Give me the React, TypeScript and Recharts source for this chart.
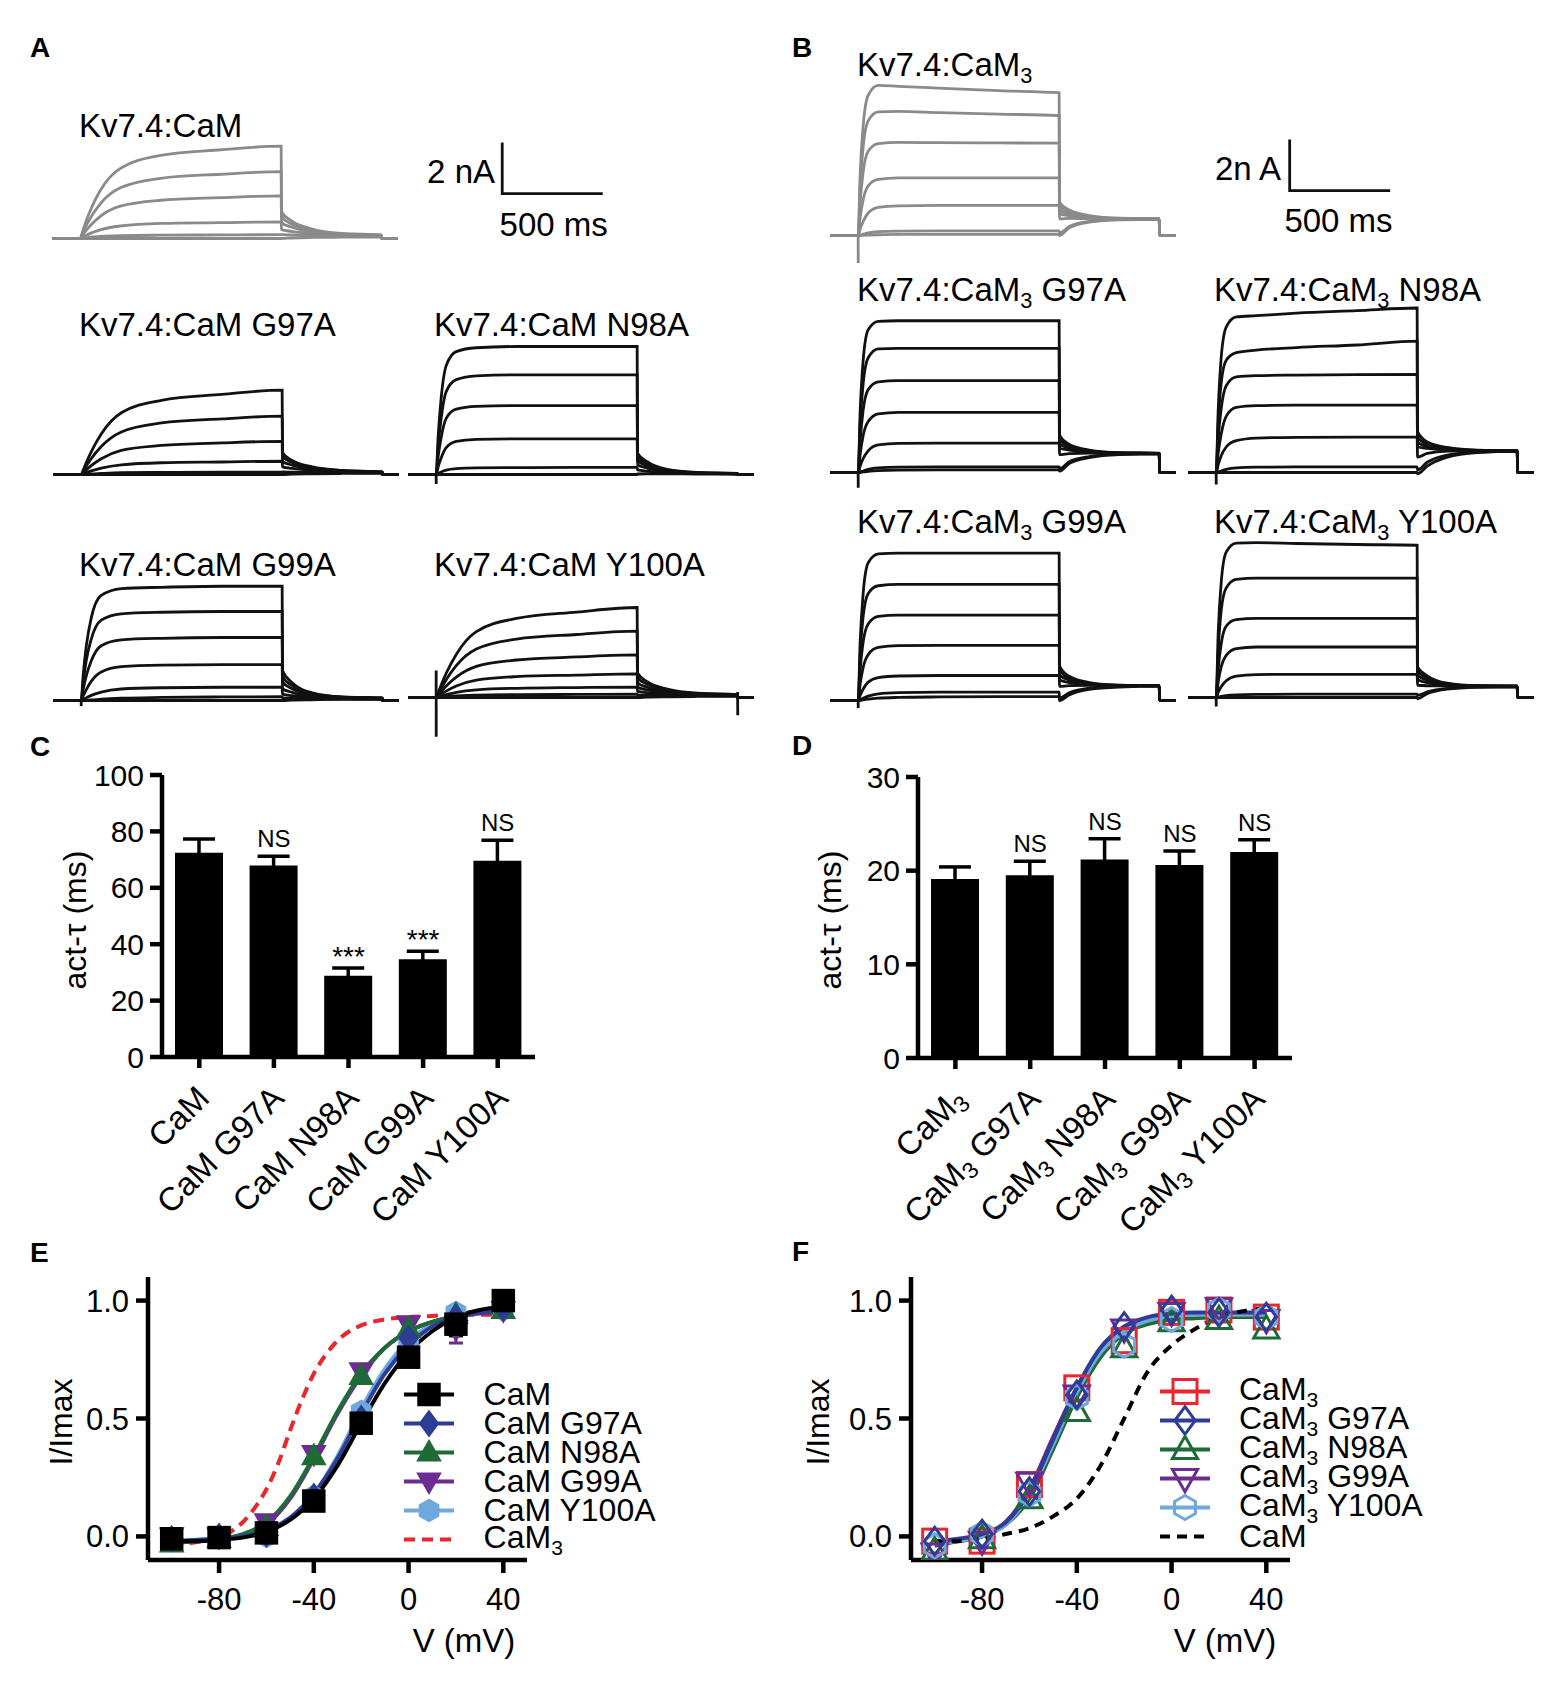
import React from 'react';
import {
  LineChart,
  ComposedChart,
  Line,
  Bar,
  Scatter,
  ErrorBar,
  XAxis,
  YAxis,
  ReferenceDot,
} from 'recharts';

const FONT = '"Liberation Sans", Arial, Helvetica, sans-serif';
const INK = '#111111';
const GRAY = '#8a8a8a';
const PX_MS = 0.201; // trace time scale
const PX_NA = 25.5; // trace current scale

// ---------- current traces (nA), sampled at these times (ms) ----------
const SWEEP_T = [-140, 0, 10, 25, 50, 100, 200, 400, 700, 1000, 1002, 1050, 1150, 1300, 1498, 1500, 1580];

const A_CAM = [
  [0, 0, 0.22, 0.58, 1.09, 1.88, 2.75, 3.26, 3.48, 3.62, 1.05, 0.7, 0.38, 0.2, 0.14, 0, 0],
  [0, 0, 0.16, 0.42, 0.79, 1.36, 1.99, 2.36, 2.52, 2.62, 0.85, 0.58, 0.33, 0.18, 0.13, 0, 0],
  [0, 0, 0.1, 0.27, 0.5, 0.87, 1.27, 1.5, 1.6, 1.67, 0.62, 0.45, 0.27, 0.16, 0.12, 0, 0],
  [0, 0, 0.04, 0.1, 0.2, 0.34, 0.49, 0.59, 0.62, 0.65, 0.35, 0.28, 0.2, 0.14, 0.11, 0, 0],
  [0, 0, 0.01, 0.02, 0.05, 0.08, 0.11, 0.13, 0.14, 0.15, 0.15, 0.14, 0.12, 0.1, 0.09, 0, 0],
  [0, 0, 0, 0, 0, 0, 0, 0, 0, 0, 0, 0.02, 0.04, 0.05, 0.06, 0, 0],
];
const A_G97A = [
  [0, 0, 0.17, 0.46, 0.89, 1.59, 2.42, 2.91, 3.14, 3.31, 0.85, 0.55, 0.3, 0.16, 0.1, 0, 0],
  [0, 0, 0.11, 0.32, 0.62, 1.1, 1.67, 2.02, 2.18, 2.29, 0.7, 0.47, 0.27, 0.15, 0.1, 0, 0],
  [0, 0, 0.07, 0.18, 0.35, 0.62, 0.95, 1.14, 1.24, 1.3, 0.5, 0.37, 0.22, 0.13, 0.09, 0, 0],
  [0, 0, 0.03, 0.07, 0.14, 0.25, 0.38, 0.46, 0.49, 0.52, 0.3, 0.24, 0.16, 0.11, 0.08, 0, 0],
  [0, 0, 0, 0.01, 0.02, 0.04, 0.07, 0.08, 0.09, 0.09, 0.1, 0.09, 0.08, 0.07, 0.06, 0, 0],
  [0, 0, 0, 0, 0, 0, 0, 0, 0, 0, 0, 0.02, 0.03, 0.04, 0.05, 0, 0],
];
const A_N98A = [
  [0, 0, 1.5, 3.0, 4.27, 4.82, 4.97, 5.02, 5.02, 5.02, 0.84, 0.5, 0.2, 0.08, 0.04, 0, 0],
  [0, 0, 1.1, 2.2, 3.25, 3.72, 3.87, 3.91, 3.91, 3.91, 0.7, 0.42, 0.17, 0.07, 0.04, 0, 0],
  [0, 0, 0.7, 1.45, 2.2, 2.56, 2.67, 2.7, 2.7, 2.7, 0.55, 0.34, 0.14, 0.06, 0.03, 0, 0],
  [0, 0, 0.3, 0.65, 1.05, 1.3, 1.38, 1.4, 1.4, 1.4, 0.38, 0.25, 0.11, 0.05, 0.03, 0, 0],
  [0, 0, 0.04, 0.1, 0.17, 0.23, 0.26, 0.27, 0.28, 0.28, 0.18, 0.13, 0.07, 0.04, 0.02, 0, 0],
  [0, 0, 0, 0, 0, 0, 0, 0, 0, 0, 0.02, 0.03, 0.03, 0.02, 0.02, 0, 0],
];
const A_G99A = [
  [0, 0, 0.99, 2.1, 3.23, 4.12, 4.39, 4.44, 4.48, 4.48, 1.17, 0.7, 0.3, 0.14, 0.1, 0, 0],
  [0, 0, 0.7, 1.55, 2.4, 3.15, 3.4, 3.46, 3.49, 3.49, 0.95, 0.58, 0.26, 0.13, 0.1, 0, 0],
  [0, 0, 0.42, 0.95, 1.55, 2.15, 2.38, 2.44, 2.47, 2.47, 0.72, 0.46, 0.22, 0.12, 0.09, 0, 0],
  [0, 0, 0.18, 0.42, 0.75, 1.12, 1.33, 1.39, 1.41, 1.41, 0.45, 0.32, 0.17, 0.1, 0.08, 0, 0],
  [0, 0, 0.04, 0.1, 0.2, 0.33, 0.45, 0.5, 0.52, 0.52, 0.25, 0.19, 0.12, 0.08, 0.06, 0, 0],
  [0, 0, 0, 0.01, 0.02, 0.05, 0.09, 0.12, 0.14, 0.15, 0.1, 0.09, 0.07, 0.06, 0.05, 0, 0],
  [0, 0, 0, 0, 0, 0, 0, 0, 0, 0, 0, 0.02, 0.03, 0.04, 0.04, 0, 0],
];
const A_Y100A = [
  [0, 0, 0.18, 0.49, 0.95, 1.69, 2.58, 3.1, 3.35, 3.53, 0.96, 0.62, 0.33, 0.17, 0.12, 0, 0],
  [0, 0, 0.13, 0.36, 0.7, 1.25, 1.9, 2.29, 2.47, 2.6, 0.78, 0.52, 0.29, 0.15, 0.11, 0, 0],
  [0, 0, 0.08, 0.23, 0.45, 0.8, 1.22, 1.47, 1.59, 1.67, 0.58, 0.4, 0.24, 0.13, 0.1, 0, 0],
  [0, 0, 0.05, 0.13, 0.25, 0.45, 0.68, 0.82, 0.88, 0.93, 0.4, 0.3, 0.19, 0.11, 0.09, 0, 0],
  [0, 0, 0.02, 0.06, 0.11, 0.2, 0.3, 0.36, 0.39, 0.41, 0.24, 0.19, 0.13, 0.09, 0.07, 0, 0],
  [0, 0, 0.01, 0.02, 0.04, 0.06, 0.09, 0.11, 0.12, 0.13, 0.1, 0.09, 0.08, 0.07, 0.06, 0, 0],
  [0, 0, 0, 0, 0, 0, 0, 0, 0, 0, 0, 0.02, 0.03, 0.04, 0.05, 0, 0],
];

const B_CAM3 = [
  [0, 0, 2.4, 4.3, 5.5, 5.89, 5.85, 5.78, 5.68, 5.6, 1.3, 1.0, 0.78, 0.68, 0.66, 0, 0],
  [0, 0, 1.9, 3.5, 4.5, 4.85, 4.87, 4.82, 4.76, 4.7, 1.15, 0.92, 0.75, 0.67, 0.65, 0, 0],
  [0, 0, 1.3, 2.5, 3.3, 3.6, 3.65, 3.64, 3.63, 3.62, 1.0, 0.85, 0.72, 0.66, 0.65, 0, 0],
  [0, 0, 0.7, 1.4, 1.95, 2.2, 2.26, 2.26, 2.26, 2.26, 0.85, 0.78, 0.7, 0.66, 0.65, 0, 0],
  [0, 0, 0.25, 0.55, 0.88, 1.1, 1.16, 1.18, 1.18, 1.18, 0.65, 0.67, 0.66, 0.65, 0.64, 0, 0],
  [0, 0, 0.02, 0.05, 0.1, 0.15, 0.17, 0.18, 0.18, 0.18, 0.1, 0.35, 0.55, 0.62, 0.64, 0, 0],
  [0, 0, 0, 0.01, 0.02, 0.03, 0.04, 0.04, 0.04, 0.04, 0, 0.3, 0.52, 0.61, 0.63, 0, 0],
];
const B_G97A = [
  [0, 0, 2.4, 4.4, 5.6, 5.93, 5.95, 5.95, 5.95, 5.95, 1.45, 1.1, 0.88, 0.78, 0.76, 0, 0],
  [0, 0, 1.9, 3.5, 4.5, 4.85, 4.87, 4.87, 4.87, 4.87, 1.3, 1.02, 0.85, 0.77, 0.75, 0, 0],
  [0, 0, 1.25, 2.45, 3.25, 3.55, 3.6, 3.6, 3.6, 3.6, 1.12, 0.95, 0.82, 0.76, 0.75, 0, 0],
  [0, 0, 0.7, 1.45, 2.0, 2.3, 2.36, 2.36, 2.36, 2.36, 0.95, 0.88, 0.8, 0.76, 0.75, 0, 0],
  [0, 0, 0.25, 0.55, 0.85, 1.08, 1.14, 1.15, 1.15, 1.15, 0.7, 0.74, 0.76, 0.75, 0.75, 0, 0],
  [0, 0, 0.02, 0.06, 0.12, 0.18, 0.21, 0.22, 0.22, 0.22, 0.15, 0.42, 0.62, 0.72, 0.74, 0, 0],
  [0, 0, 0, 0.02, 0.04, 0.07, 0.09, 0.1, 0.1, 0.1, 0.05, 0.35, 0.58, 0.7, 0.73, 0, 0],
];
const B_N98A = [
  [0, 0, 2.4, 4.5, 5.7, 6.1, 6.15, 6.25, 6.35, 6.45, 1.6, 1.2, 0.98, 0.88, 0.86, 0, 0],
  [0, 0, 1.9, 3.5, 4.4, 4.7, 4.8, 4.9, 5.0, 5.15, 1.4, 1.1, 0.94, 0.87, 0.85, 0, 0],
  [0, 0, 1.3, 2.5, 3.4, 3.75, 3.8, 3.82, 3.84, 3.85, 1.2, 1.02, 0.9, 0.86, 0.85, 0, 0],
  [0, 0, 0.75, 1.5, 2.2, 2.55, 2.62, 2.64, 2.64, 2.64, 1.0, 0.95, 0.88, 0.85, 0.85, 0, 0],
  [0, 0, 0.3, 0.65, 1.0, 1.25, 1.35, 1.38, 1.39, 1.39, 0.6, 0.75, 0.84, 0.85, 0.85, 0, 0],
  [0, 0, 0.02, 0.06, 0.12, 0.18, 0.21, 0.22, 0.22, 0.22, 0.1, 0.4, 0.68, 0.8, 0.84, 0, 0],
  [0, 0, 0, 0, 0, 0, 0, 0, 0, 0, -0.05, 0.25, 0.6, 0.78, 0.83, 0, 0],
];
const B_G99A = [
  [0, 0, 2.3, 4.2, 5.4, 5.75, 5.78, 5.78, 5.78, 5.78, 1.35, 0.95, 0.7, 0.6, 0.58, 0, 0],
  [0, 0, 1.8, 3.3, 4.2, 4.5, 4.55, 4.55, 4.55, 4.55, 1.2, 0.88, 0.67, 0.59, 0.58, 0, 0],
  [0, 0, 1.2, 2.3, 3.0, 3.3, 3.35, 3.35, 3.35, 3.35, 1.0, 0.8, 0.64, 0.59, 0.58, 0, 0],
  [0, 0, 0.65, 1.3, 1.8, 2.08, 2.15, 2.16, 2.16, 2.16, 0.8, 0.7, 0.62, 0.58, 0.58, 0, 0],
  [0, 0, 0.2, 0.45, 0.72, 0.9, 0.96, 0.98, 0.98, 0.98, 0.55, 0.58, 0.59, 0.58, 0.58, 0, 0],
  [0, 0, 0.03, 0.09, 0.17, 0.26, 0.31, 0.33, 0.33, 0.33, 0.1, 0.3, 0.48, 0.55, 0.57, 0, 0],
  [0, 0, 0, 0.02, 0.05, 0.09, 0.12, 0.14, 0.15, 0.15, 0, 0.22, 0.44, 0.53, 0.56, 0, 0],
];
const B_Y100A = [
  [0, 0, 2.5, 4.5, 5.7, 6.05, 6.07, 6.04, 6.0, 5.97, 1.2, 0.85, 0.56, 0.46, 0.44, 0, 0],
  [0, 0, 1.8, 3.4, 4.3, 4.63, 4.68, 4.68, 4.68, 4.68, 1.05, 0.76, 0.53, 0.45, 0.44, 0, 0],
  [0, 0, 1.1, 2.1, 2.8, 3.05, 3.1, 3.1, 3.1, 3.1, 0.88, 0.67, 0.5, 0.45, 0.44, 0, 0],
  [0, 0, 0.6, 1.2, 1.65, 1.92, 1.98, 1.98, 1.98, 1.98, 0.7, 0.58, 0.48, 0.44, 0.44, 0, 0],
  [0, 0, 0.2, 0.42, 0.66, 0.84, 0.9, 0.91, 0.91, 0.91, 0.48, 0.46, 0.45, 0.44, 0.44, 0, 0],
  [0, 0, 0.02, 0.04, 0.07, 0.1, 0.12, 0.13, 0.13, 0.13, 0.08, 0.22, 0.36, 0.42, 0.43, 0, 0],
  [0, 0, 0, 0, 0, 0, 0, 0, 0, 0, -0.05, 0.15, 0.33, 0.4, 0.42, 0, 0],
];

// capacitive transients: [t, nA] pairs
const A_N98A_SPIKES = [[[0, 0], [0.5, -0.37]]];
const A_G99A_SPIKES = [[[0, 0], [0.5, -0.22]]];
const A_Y100A_SPIKES = [[[0, 1.06], [0.5, -1.54]], [[1500, 0.22], [1500.5, -0.7]]];
const B_CAM3_SPIKES = [[[0, 0], [0.5, -1.08]]];
const B_G97A_SPIKES = [[[0, 0], [0.5, -0.6]]];
const B_N98A_SPIKES = [[[0, 0], [0.5, -0.47]]];
const B_G99A_SPIKES = [[[0, 0], [0.5, -0.3]]];
const B_Y100A_SPIKES = [[[0, 0], [0.5, -0.35]]];

// scale bars: 2 nA / 500 ms
const BAR_NA = 2;
const BAR_MS = 500;

// ---------- activation time constants ----------
const C_NAMES = ['CaM', 'CaM G97A', 'CaM N98A', 'CaM G99A', 'CaM Y100A'];
const C_MEAN = [72.4, 67.9, 28.8, 34.7, 69.6];
const C_SEM = [4.9, 3.3, 2.8, 2.8, 7.3];
const C_SIG = ['', 'NS', '***', '***', 'NS'];
const C_TICKS = [0, 20, 40, 60, 80, 100];

const D_NAMES = ['CaM3', 'CaM3 G97A', 'CaM3 N98A', 'CaM3 G99A', 'CaM3 Y100A'];
const D_MEAN = [19.1, 19.5, 21.2, 20.6, 22.0];
const D_SEM = [1.3, 1.5, 2.2, 1.5, 1.3];
const D_SIG = ['', 'NS', 'NS', 'NS', 'NS'];
const D_TICKS = [0, 10, 20, 30];

// ---------- conductance-voltage ----------
const V_STEPS = [-100, -80, -60, -40, -20, 0, 20, 40];
const V_TICKS = [-80, -40, 0, 40];
const FIT_V = [-100, -90, -80, -70, -60, -50, -40, -30, -20, -10, 0, 10, 20, 30, 40];

const E_CAM = [-0.01, -0.005, 0.015, 0.15, 0.48, 0.76, 0.9, 1.0];
const E_CAM_ERR = [0.01, 0.01, 0.01, 0.02, 0.02, 0.03, 0.05, 0.01];
const E_G97A = [-0.01, 0.0, 0.01, 0.17, 0.5, 0.84, 0.93, 0.97];
const E_N98A = [-0.03, -0.01, 0.04, 0.34, 0.68, 0.88, 0.94, 0.96];
const E_G99A = [0.0, 0.0, 0.06, 0.35, 0.7, 0.9, 0.88, 0.96];
const E_G99A_ERR = [0.01, 0.01, 0.01, 0.02, 0.02, 0.02, 0.06, 0.01];
const E_Y100A = [-0.01, 0.0, 0.0, 0.17, 0.53, 0.82, 0.95, 0.96];

const E_FIT_CAM = [-0.02, -0.02, -0.015, -0.005, 0.02, 0.07, 0.16, 0.3, 0.48, 0.65, 0.78, 0.87, 0.93, 0.96, 0.975];
const E_FIT_G97A = [-0.02, -0.015, -0.01, 0.0, 0.025, 0.08, 0.18, 0.33, 0.52, 0.69, 0.81, 0.89, 0.93, 0.95, 0.96];
const E_FIT_N98A = [-0.03, -0.02, -0.01, 0.01, 0.06, 0.17, 0.34, 0.53, 0.69, 0.8, 0.87, 0.91, 0.935, 0.95, 0.955];
const E_FIT_G99A = [-0.02, -0.02, -0.01, 0.005, 0.05, 0.16, 0.33, 0.52, 0.68, 0.8, 0.87, 0.91, 0.93, 0.945, 0.95];
const E_FIT_Y100A = [-0.02, -0.015, -0.01, 0.0, 0.02, 0.075, 0.18, 0.34, 0.54, 0.71, 0.83, 0.9, 0.94, 0.955, 0.96];
const E_FIT_CAM3_V = [-100, -90, -80, -75, -70, -65, -60, -55, -50, -45, -40, -35, -30, -25, -20, -10, 0, 10, 20, 30, 40];
const E_FIT_CAM3 = [-0.035, -0.025, -0.005, 0.02, 0.06, 0.12, 0.2, 0.31, 0.45, 0.58, 0.69, 0.77, 0.83, 0.87, 0.895, 0.92, 0.93, 0.935, 0.94, 0.94, 0.94];

const F_CAM3 = [-0.02, -0.02, 0.22, 0.63, 0.83, 0.95, 0.96, 0.93];
const F_G97A = [-0.02, 0.01, 0.19, 0.6, 0.89, 0.96, 0.95, 0.93];
const F_N98A = [-0.06, -0.01, 0.16, 0.53, 0.8, 0.91, 0.92, 0.88];
const F_G99A = [-0.07, -0.02, 0.23, 0.6, 0.88, 0.95, 0.97, 0.92];
const F_Y100A = [-0.04, 0.01, 0.18, 0.59, 0.81, 0.92, 0.96, 0.93];

const F_FIT_CAM3 = [-0.02, -0.015, 0.0, 0.06, 0.2, 0.42, 0.63, 0.79, 0.88, 0.92, 0.94, 0.945, 0.945, 0.945, 0.945];
const F_FIT_G97A = [-0.02, -0.01, 0.01, 0.06, 0.19, 0.41, 0.63, 0.8, 0.89, 0.93, 0.945, 0.95, 0.95, 0.95, 0.95];
const F_FIT_N98A = [-0.03, -0.02, 0.0, 0.05, 0.16, 0.37, 0.59, 0.76, 0.86, 0.9, 0.92, 0.925, 0.93, 0.93, 0.93];
const F_FIT_G99A = [-0.04, -0.02, 0.0, 0.06, 0.2, 0.42, 0.63, 0.79, 0.88, 0.92, 0.94, 0.945, 0.945, 0.945, 0.945];
const F_FIT_Y100A = [-0.03, -0.02, 0.0, 0.05, 0.18, 0.39, 0.61, 0.78, 0.87, 0.915, 0.935, 0.94, 0.94, 0.94, 0.94];
const F_FIT_CAM = [-0.02, -0.02, -0.01, 0.01, 0.035, 0.085, 0.16, 0.3, 0.5, 0.7, 0.81, 0.88, 0.93, 0.955, 0.97];

const RED = '#e8262b';
const BLUE = '#2d3c96';
const GREEN = '#1e6b37';
const PURPLE = '#6b2d90';
const SKY = '#6fa8dc';

const AXIS = { stroke: '#000', strokeWidth: 4.5 };

// ---------------------------------------------------------------------

type Kind = 'square' | 'diamond' | 'up' | 'down' | 'hex';

function Marker({ cx, cy, kind, size, color, open }: { cx: number; cy: number; kind: Kind; size: number; color: string; open?: boolean }) {
  const h = size / 2;
  const st = { fill: open ? 'none' : color, stroke: color, strokeWidth: open ? 3 : 1.5 };
  if (kind === 'square') return <rect x={cx - h} y={cy - h} width={size} height={size} {...st} />;
  let pts: number[][];
  if (kind === 'diamond') pts = [[0, -1.15], [0.85, 0], [0, 1.15], [-0.85, 0]];
  else if (kind === 'up') pts = [[0, -1.1], [1.05, 0.75], [-1.05, 0.75]];
  else if (kind === 'down') pts = [[0, 1.1], [1.05, -0.75], [-1.05, -0.75]];
  else pts = [[0, -1], [0.87, -0.5], [0.87, 0.5], [0, 1], [-0.87, 0.5], [-0.87, -0.5]];
  return <polygon points={pts.map(([a, b]) => `${cx + a * h},${cy + b * h}`).join(' ')} {...st} />;
}

function Sub3({ text, subSize = 0.66 }: { text: string; subSize?: number }) {
  const m = text.match(/^(.*CaM)3(.*)$/);
  if (!m) return <>{text}</>;
  return (
    <>
      {m[1]}
      <span style={{ fontSize: `${subSize}em`, position: 'relative', top: '0.32em' }}>3</span>
      {m[2]}
    </>
  );
}

function Txt({ x, y, size = 33, bold, anchor = 'left', children }: any) {
  const style: any = {
    position: 'absolute',
    top: y - 0.49 * size,
    fontSize: size,
    lineHeight: 1,
    fontWeight: bold ? 700 : 400,
    whiteSpace: 'nowrap',
    color: '#000',
  };
  if (anchor === 'left') style.left = x;
  else if (anchor === 'right') style.right = 1562 - x;
  else {
    style.left = x;
    style.transform = 'translateX(-50%)';
  }
  return <div style={style}>{children}</div>;
}

function VText({ x, y, size = 32, children }: any) {
  return (
    <div
      style={{
        position: 'absolute',
        left: x,
        top: y,
        fontSize: size,
        lineHeight: 1,
        whiteSpace: 'nowrap',
        transform: 'translate(-50%, -50%) rotate(-90deg)',
      }}
    >
      {children}
    </div>
  );
}

type TraceProps = {
  x0: number;
  base: number;
  sweeps: number[][];
  color: string;
  tMax?: number;
  spikes?: number[][][];
  barAt?: [number, number];
};

function TracePanel({ x0, base, sweeps, color, tMax = 1580, spikes = [], barAt }: TraceProps) {
  const tMin = SWEEP_T[0];
  const yMin = -1.8;
  const yMax = 7;
  const width = (tMax - tMin) * PX_MS;
  const height = (yMax - yMin) * PX_NA;
  const bar = barAt
    ? [
        { t: barAt[0], v: barAt[1] + BAR_NA },
        { t: barAt[0], v: barAt[1] },
        { t: barAt[0] + BAR_MS, v: barAt[1] },
      ]
    : null;
  return (
    <div style={{ position: 'absolute', left: x0 + tMin * PX_MS, top: base - yMax * PX_NA }}>
      <LineChart width={width} height={height} margin={{ top: 0, right: 0, bottom: 0, left: 0 }}>
        <XAxis type="number" dataKey="t" domain={[tMin, tMax]} hide allowDataOverflow />
        <YAxis type="number" domain={[yMin, yMax]} hide allowDataOverflow />
        {sweeps.map((s, i) => (
          <Line
            key={`s${i}`}
            data={SWEEP_T.map((t, k) => ({ t, v: s[k] }))}
            dataKey="v"
            type="monotone"
            stroke={color}
            strokeWidth={2.8}
            dot={false}
            activeDot={false}
            isAnimationActive={false}
          />
        ))}
        {spikes.map((sp, i) => (
          <Line
            key={`p${i}`}
            data={sp.map(([t, v]) => ({ t, v }))}
            dataKey="v"
            type="linear"
            stroke={color}
            strokeWidth={2.8}
            dot={false}
            activeDot={false}
            isAnimationActive={false}
          />
        ))}
        {bar && (
          <Line data={bar} dataKey="v" type="linear" stroke={INK} strokeWidth={2.8} dot={false} activeDot={false} isAnimationActive={false} />
        )}
      </LineChart>
    </div>
  );
}

function CatTick(props: any) {
  const { x, y, payload } = props;
  const m = String(payload.value).match(/^CaM(3?)(.*)$/) || ['', '', String(payload.value)];
  const sub = m[1];
  const rest = m[2];
  return (
    <g transform={`translate(${x + 12},${y + 30}) rotate(-45)`}>
      <text textAnchor="end" fontSize={33} fontFamily={FONT} fill="#000" style={{ whiteSpace: 'pre' }}>
        <tspan>CaM</tspan>
        {sub ? (
          <tspan fontSize={23} dy={6}>
            {sub}
          </tspan>
        ) : null}
        {rest ? <tspan dy={sub ? -6 : 0}>{rest}</tspan> : null}
      </text>
    </g>
  );
}

function TauChart({ left, top, plotW, plotH, names, mean, sem, sig, ticks }: any) {
  const data = names.map((name: string, i: number) => ({ name, mean: mean[i], sem: sem[i] }));
  const yMax = ticks[ticks.length - 1];
  return (
    <div style={{ position: 'absolute', left, top }}>
      <ComposedChart width={80 + plotW + 30} height={20 + plotH + 200} data={data} margin={{ top: 20, right: 30, bottom: 0, left: 0 }}>
        <XAxis dataKey="name" type="category" interval={0} height={200} tickSize={11} axisLine={AXIS} tickLine={AXIS} tick={(p: any) => <CatTick {...p} />} />
        <YAxis
          type="number"
          domain={[0, yMax]}
          ticks={ticks}
          width={80}
          tickSize={12}
          tickMargin={6}
          axisLine={AXIS}
          tickLine={AXIS}
          tick={{ fill: '#000', fontSize: 30, fontFamily: FONT }}
        />
        <Bar dataKey="mean" fill="#000" barSize={48} isAnimationActive={false}>
          <ErrorBar dataKey="sem" width={16} stroke="#000" strokeWidth={3.5} direction="y" isAnimationActive={false} />
        </Bar>
        {names.map((n: string, i: number) =>
          sig[i] ? (
            <ReferenceDot
              key={n}
              x={n}
              y={mean[i] + sem[i]}
              r={0}
              fill="none"
              stroke="none"
              label={{
                value: sig[i],
                position: 'top',
                offset: sig[i] === 'NS' ? 9 : 2,
                fill: '#000',
                fontSize: sig[i] === 'NS' ? 24 : 28,
                fontFamily: FONT,
              }}
            />
          ) : null
        )}
      </ComposedChart>
    </div>
  );
}

type IVSeries = {
  pts?: number[];
  err?: number[];
  fitV?: number[];
  fit: number[];
  color: string;
  kind?: Kind;
  open?: boolean;
  dash?: string;
};

function IVChart({ left, series }: { left: number; series: IVSeries[] }) {
  return (
    <div style={{ position: 'absolute', left, top: 1267 }}>
      <ComposedChart width={489} height={353} margin={{ top: 10, right: 30, bottom: 0, left: 0 }}>
        <XAxis
          type="number"
          dataKey="x"
          domain={[-110, 50]}
          ticks={V_TICKS}
          height={60}
          tickSize={13}
          tickMargin={15}
          axisLine={AXIS}
          tickLine={AXIS}
          tick={{ fill: '#000', fontSize: 31, fontFamily: FONT }}
          allowDataOverflow
        />
        <YAxis
          type="number"
          dataKey="y"
          domain={[-0.1, 1.1]}
          ticks={[0, 0.5, 1]}
          tickFormatter={(v: number) => v.toFixed(1)}
          width={80}
          tickSize={12}
          tickMargin={7}
          axisLine={AXIS}
          tickLine={AXIS}
          tick={{ fill: '#000', fontSize: 31, fontFamily: FONT }}
          allowDataOverflow
        />
        {series.flatMap((s, i) => {
          const fitV = s.fitV || FIT_V;
          const out: any[] = [
            <Line
              key={`f${i}`}
              data={fitV.map((x, k) => ({ x, y: s.fit[k] }))}
              dataKey="y"
              type="monotone"
              stroke={s.color}
              strokeWidth={4}
              strokeDasharray={s.dash}
              dot={false}
              activeDot={false}
              isAnimationActive={false}
            />,
          ];
          if (s.pts) {
            out.push(
              <Scatter
                key={`m${i}`}
                data={V_STEPS.map((x, k) => ({ x, y: s.pts![k], e: s.err ? s.err[k] : 0 }))}
                dataKey="y"
                isAnimationActive={false}
                shape={(p: any) => <Marker cx={p.cx} cy={p.cy} kind={s.kind!} size={s.open ? 24 : 22} color={s.color} open={s.open} />}
              >
                {s.err ? <ErrorBar dataKey="e" direction="y" width={7} stroke={s.color} strokeWidth={3} isAnimationActive={false} /> : null}
              </Scatter>
            );
          }
          return out;
        })}
      </ComposedChart>
    </div>
  );
}

function IVLegend({ left, top, items, gap }: { left: number; top: number; items: { label: string; s: IVSeries }[]; gap: number }) {
  const rowH = 29;
  return (
    <div style={{ position: 'absolute', left, top, fontSize: 32 }}>
      {items.map(({ label, s }) => (
        <div key={label} style={{ display: 'flex', alignItems: 'center', height: rowH }}>
          <svg width={50} height={rowH} style={{ overflow: 'visible', flex: 'none' }}>
            <line x1={0} x2={50} y1={rowH / 2} y2={rowH / 2} stroke={s.color} strokeWidth={4} strokeDasharray={s.dash} />
            {s.kind ? <Marker cx={25} cy={rowH / 2} kind={s.kind} size={s.open ? 24 : 22} color={s.color} open={s.open} /> : null}
          </svg>
          <span style={{ marginLeft: gap, lineHeight: `${rowH}px`, whiteSpace: 'nowrap' }}>
            <Sub3 text={label} />
          </span>
        </div>
      ))}
    </div>
  );
}

export default function App() {
  const eCam3: IVSeries = { fitV: E_FIT_CAM3_V, fit: E_FIT_CAM3, color: RED, dash: '11 7' };
  const eY100A: IVSeries = { pts: E_Y100A, fit: E_FIT_Y100A, color: SKY, kind: 'hex' };
  const eG99A: IVSeries = { pts: E_G99A, err: E_G99A_ERR, fit: E_FIT_G99A, color: PURPLE, kind: 'down' };
  const eN98A: IVSeries = { pts: E_N98A, fit: E_FIT_N98A, color: GREEN, kind: 'up' };
  const eG97A: IVSeries = { pts: E_G97A, fit: E_FIT_G97A, color: BLUE, kind: 'diamond' };
  const eCam: IVSeries = { pts: E_CAM, err: E_CAM_ERR, fit: E_FIT_CAM, color: '#000', kind: 'square' };

  const fCam3: IVSeries = { pts: F_CAM3, fit: F_FIT_CAM3, color: RED, kind: 'square', open: true };
  const fG97A: IVSeries = { pts: F_G97A, fit: F_FIT_G97A, color: BLUE, kind: 'diamond', open: true };
  const fN98A: IVSeries = { pts: F_N98A, fit: F_FIT_N98A, color: GREEN, kind: 'up', open: true };
  const fG99A: IVSeries = { pts: F_G99A, fit: F_FIT_G99A, color: PURPLE, kind: 'down', open: true };
  const fY100A: IVSeries = { pts: F_Y100A, fit: F_FIT_Y100A, color: SKY, kind: 'hex', open: true };
  const fCam: IVSeries = { fit: F_FIT_CAM, color: '#000', dash: '10 7' };

  return (
    <div
      style={{
        position: 'absolute',
        left: 0,
        top: 0,
        width: 1562,
        height: 1683,
        background: '#fff',
        fontFamily: FONT,
        overflow: 'hidden',
      }}
    >
      {/* panel letters */}
      <Txt x={30} y={48} size={28} bold>A</Txt>
      <Txt x={792} y={48} size={28} bold>B</Txt>
      <Txt x={30} y={747} size={28} bold>C</Txt>
      <Txt x={792} y={746} size={28} bold>D</Txt>
      <Txt x={30} y={1253} size={28} bold>E</Txt>
      <Txt x={792} y={1252} size={28} bold>F</Txt>

      {/* A: current traces */}
      <TracePanel x0={80.5} base={238.4} sweeps={A_CAM} color={GRAY} tMax={2650} barAt={[2100, 1.76]} />
      <TracePanel x0={81.5} base={474} sweeps={A_G97A} color={INK} />
      <TracePanel x0={436.5} base={474} sweeps={A_N98A} color={INK} spikes={A_N98A_SPIKES} />
      <TracePanel x0={81.5} base={700.5} sweeps={A_G99A} color={INK} spikes={A_G99A_SPIKES} />
      <TracePanel x0={436.5} base={697.6} sweeps={A_Y100A} color={INK} spikes={A_Y100A_SPIKES} />
      <Txt x={79} y={125.6}>Kv7.4:CaM</Txt>
      <Txt x={79} y={324.6}>Kv7.4:CaM G97A</Txt>
      <Txt x={434} y={324.6}>Kv7.4:CaM N98A</Txt>
      <Txt x={79} y={564}>Kv7.4:CaM G99A</Txt>
      <Txt x={434} y={564}>Kv7.4:CaM Y100A</Txt>
      <Txt x={495} y={171.6} anchor="right">2 nA</Txt>
      <Txt x={553.7} y={224} anchor="center">500 ms</Txt>

      {/* B: current traces */}
      <TracePanel x0={858.5} base={235.5} sweeps={B_CAM3} color={GRAY} tMax={2700} spikes={B_CAM3_SPIKES} barAt={[2147, 1.76]} />
      <TracePanel x0={858.5} base={472.5} sweeps={B_G97A} color={INK} spikes={B_G97A_SPIKES} />
      <TracePanel x0={1216} base={472.5} sweeps={B_N98A} color={INK} spikes={B_N98A_SPIKES} />
      <TracePanel x0={858.5} base={700.5} sweeps={B_G99A} color={INK} spikes={B_G99A_SPIKES} />
      <TracePanel x0={1216} base={697.6} sweeps={B_Y100A} color={INK} spikes={B_Y100A_SPIKES} />
      <Txt x={857} y={64}><Sub3 text="Kv7.4:CaM3" /></Txt>
      <Txt x={857} y={289}><Sub3 text="Kv7.4:CaM3 G97A" /></Txt>
      <Txt x={1214} y={289}><Sub3 text="Kv7.4:CaM3 N98A" /></Txt>
      <Txt x={857} y={521}><Sub3 text="Kv7.4:CaM3 G99A" /></Txt>
      <Txt x={1214} y={521}><Sub3 text="Kv7.4:CaM3 Y100A" /></Txt>
      <Txt x={1281} y={168} anchor="right">2n A</Txt>
      <Txt x={1338.5} y={220.4} anchor="center">500 ms</Txt>

      {/* C, D: activation tau */}
      <TauChart left={82} top={755} plotW={373} plotH={282} names={C_NAMES} mean={C_MEAN} sem={C_SEM} sig={C_SIG} ticks={C_TICKS} />
      <TauChart left={838} top={757} plotW={374} plotH={281} names={D_NAMES} mean={D_MEAN} sem={D_SEM} sig={D_SIG} ticks={D_TICKS} />
      <VText x={75} y={920}>act-τ (ms)</VText>
      <VText x={830} y={920}>act-τ (ms)</VText>

      {/* E, F: G-V */}
      <IVChart left={68} series={[eCam3, eY100A, eG99A, eN98A, eG97A, eCam]} />
      <IVChart left={831} series={[fCam3, fN98A, fG99A, fY100A, fG97A, fCam]} />
      <IVLegend
        left={403.6}
        top={1379.5}
        gap={30}
        items={[
          { label: 'CaM', s: eCam },
          { label: 'CaM G97A', s: eG97A },
          { label: 'CaM N98A', s: eN98A },
          { label: 'CaM G99A', s: eG99A },
          { label: 'CaM Y100A', s: eY100A },
          { label: 'CaM3', s: eCam3 },
        ]}
      />
      <IVLegend
        left={1160}
        top={1376.5}
        gap={29}
        items={[
          { label: 'CaM3', s: fCam3 },
          { label: 'CaM3 G97A', s: fG97A },
          { label: 'CaM3 N98A', s: fN98A },
          { label: 'CaM3 G99A', s: fG99A },
          { label: 'CaM3 Y100A', s: fY100A },
          { label: 'CaM', s: fCam },
        ]}
      />
      <VText x={60.5} y={1422}>I/Imax</VText>
      <VText x={818} y={1422}>I/Imax</VText>
      <Txt x={464} y={1640} anchor="center">V (mV)</Txt>
      <Txt x={1225} y={1640} anchor="center">V (mV)</Txt>
    </div>
  );
}
